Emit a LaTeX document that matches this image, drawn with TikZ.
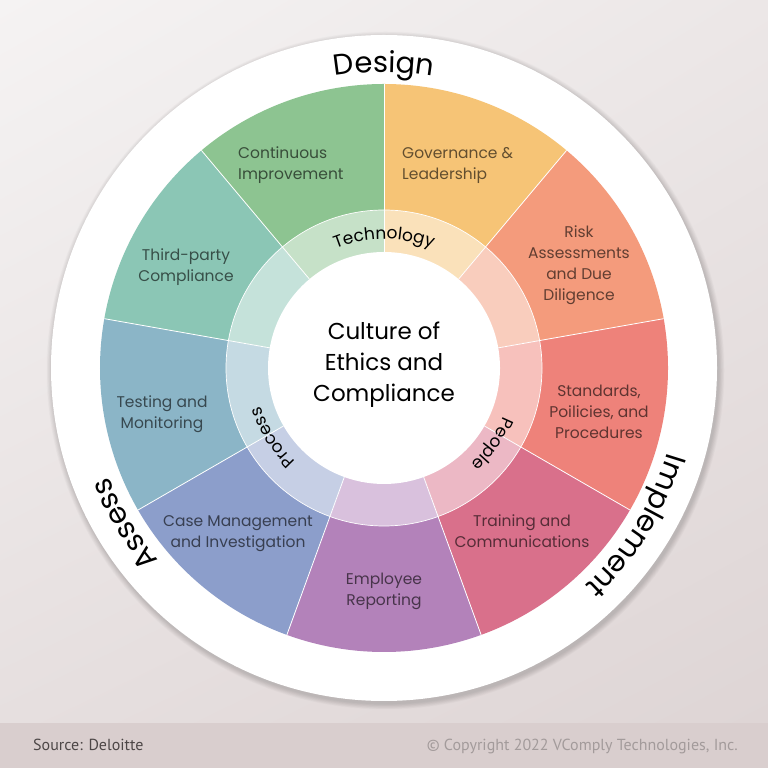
\documentclass[tikz,border=0pt]{standalone}
\usepackage{fontspec}
\setmainfont{Poppins}
\newfontfamily\footfont{PT Sans}
\usetikzlibrary{decorations.text,shadings}
\definecolor{bgTL}{HTML}{F5F3F3}
\definecolor{bgTR}{HTML}{ECE7E7}
\definecolor{bgBL}{HTML}{E6DFDF}
\definecolor{bgBR}{HTML}{DED5D5}
\definecolor{band}{HTML}{D9CECE}
\definecolor{cGov}{HTML}{F6C476}
\definecolor{cRisk}{HTML}{F49B7C}
\definecolor{cStd}{HTML}{EE827A}
\definecolor{cTrain}{HTML}{D9708B}
\definecolor{cEmp}{HTML}{B382BA}
\definecolor{cCase}{HTML}{8C9ECB}
\definecolor{cTest}{HTML}{8BB5C7}
\definecolor{cThird}{HTML}{8BC6B5}
\definecolor{cCont}{HTML}{8DC491}
\definecolor{srcgray}{HTML}{4D4747}
\definecolor{copygray}{HTML}{A39B9B}
\newcommand{\seglines}[2]{\begin{tabular}[t]{@{}#1@{}}#2\end{tabular}}
\tikzset{
  seglabel/.style={inner sep=0pt, text=black, text opacity=0.6, font=\fontsize{15.5}{21}\selectfont},
  centerlabel/.style={inner sep=0pt, text=black, font=\fontsize{23}{31}\selectfont},
  footlabel/.style={inner sep=0pt, font=\footfont\fontsize{16}{18}\selectfont},
  outerarc/.style={decorate, decoration={text along path, text align=center, text={|\fontsize{29}{29}\selectfont|#1}}},
  ringarc/.style={decorate, decoration={text along path, text align=center, text={|\fontsize{17}{17}\selectfont|#1}}},
}
\begin{document}
\begin{tikzpicture}[x=1pt,y=1pt]
\useasboundingbox (0,0) rectangle (768,768);
% background
\shade[upper left=bgTL, upper right=bgTR, lower left=bgBL, lower right=bgBR] (0,45) rectangle (768,768);
\fill[band] (0,0) rectangle (768,45);
\begin{scope}[shift={(384,400)}]
  % soft shadow
  \foreach \i in {1,...,10}{
    \fill[black, opacity=0.016] (1.5,-2.5) circle ({333+0.6*\i});
  }
  \fill[white] (0,0) circle (333);
  % sectors
  \foreach \s/\c in {90/cGov,50/cRisk,10/cStd,-30/cTrain,-70/cEmp,-110/cCase,-150/cTest,170/cThird,130/cCont}{
    \fill[\c] (0,0) -- (\s:284) arc[start angle=\s, end angle=\s-40, radius=284] -- cycle;
    \fill[\c!50!white] (0,0) -- (\s:158) arc[start angle=\s, end angle=\s-40, radius=158] -- cycle;
  }
  \draw[white, line width=0.7pt] (0,0) circle (158);
  \foreach \s in {90,50,10,-30,-70,-110,-150,170,130}{
    \draw[white, line width=0.8pt] (\s:116) -- (\s:284);
  }
  \fill[white] (0,0) circle (116);
  % curved labels
  \path[outerarc=Design] (130:296) arc[start angle=130, end angle=50, radius=296];
  \path[outerarc=Implement] (28:296) arc[start angle=28, end angle=-92, radius=296];
  \path[outerarc=Assess] (271:296) arc[start angle=271, end angle=151, radius=296];
  \path[ringarc=Technology] (150:129) arc[start angle=150, end angle=30, radius=129];
  \path[ringarc=People] (25:129) arc[start angle=25, end angle=-95, radius=129];
  \path[ringarc=Process] (272:129) arc[start angle=272, end angle=152, radius=129];
\end{scope}
% segment labels
\node[seglabel, anchor=base west] (cont) at (238,609) {\seglines{l}{Continuous\\Improvement}};
\node[seglabel, anchor=base west] (gov) at (402,609) {\seglines{l}{Governance \&\\Leadership}};
\node[seglabel, anchor=base] (risk) at (579,530) {\seglines{c}{Risk\\Assessments\\and Due\\Diligence}};
\node[seglabel, anchor=base] (std) at (599,371) {\seglines{c}{Standards,\\Poilicies, and\\Procedures}};
\node[seglabel, anchor=base] (train) at (522,241) {\seglines{c}{Training and\\Communications}};
\node[seglabel, anchor=base] (emp) at (384,183) {\seglines{c}{Employee\\Reporting}};
\node[seglabel, anchor=base] (case) at (238,241) {\seglines{c}{Case Management\\and Investigation}};
\node[seglabel, anchor=base] (test) at (162,360) {\seglines{c}{Testing and\\Monitoring}};
\node[seglabel, anchor=base] (third) at (186,507) {\seglines{c}{Third-party\\Compliance}};
% center
\node[centerlabel, anchor=base] (core) at (384,428) {\seglines{c}{Culture of\\Ethics and\\Compliance}};
% footer
\node[footlabel, text=srcgray, anchor=base west] (src) at (33,17) {Source: Deloitte};
\node[footlabel, text=copygray, anchor=base east] (copy) at (738,17) {© Copyright 2022 VComply Technologies, Inc.};
\end{tikzpicture}
\end{document}
